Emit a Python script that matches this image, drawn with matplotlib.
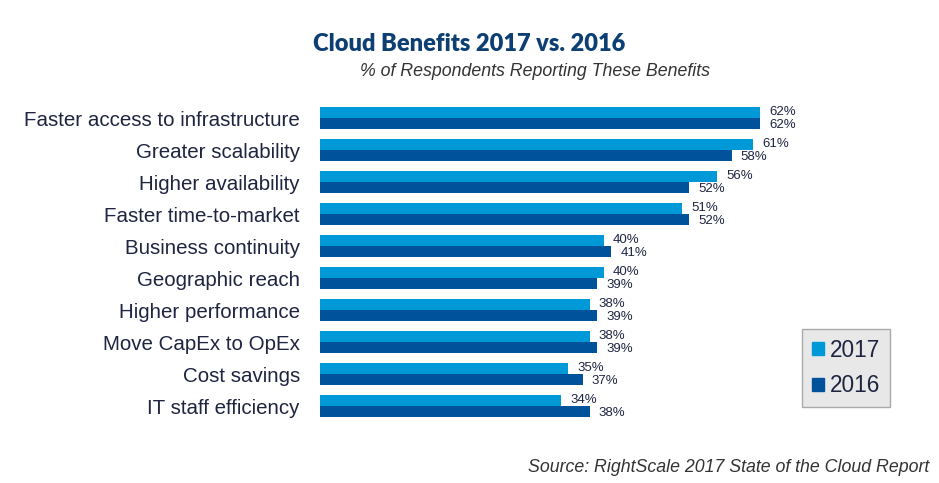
import matplotlib.pyplot as plt
import numpy as np
from matplotlib.patches import Patch

# Données
categories = ['Faster access to infrastructure', 'Greater scalability', 'Higher availability',
              'Faster time-to-market', 'Business continuity', 'Geographic reach',
              'Higher performance', 'Move CapEx to OpEx', 'Cost savings', 'IT staff efficiency']
values_2017 = [62, 61, 56, 51, 40, 40, 38, 38, 35, 34]
values_2016 = [62, 58, 52, 52, 41, 39, 39, 39, 37, 38]

light_blue = '#0099d8'
dark_blue = '#00529b'
text_col = '#1f2440'

plt.rcParams['font.family'] = ['Liberation Sans', 'DejaVu Sans']

fig = plt.figure(figsize=(9.39, 4.83), dpi=100)
ax = fig.add_axes([320 / 939, 1 - 422 / 483, 440 / 939, 320 / 483])

y = np.arange(len(categories))
h = 0.34
ax.barh(y - h / 2, values_2017, height=h, color=light_blue, label='2017')
ax.barh(y + h / 2, values_2016, height=h, color=dark_blue, label='2016')

for yi, v in zip(y, values_2017):
    ax.text(v + 1.3, yi - h / 2 - 0.02, f'{v}%', va='center', ha='left', fontsize=9.5, color=text_col)
for yi, v in zip(y, values_2016):
    ax.text(v + 1.3, yi + h / 2 + 0.04, f'{v}%', va='center', ha='left', fontsize=9.5, color=text_col)

ax.set_xlim(0, 62)
ax.set_ylim(len(categories) - 0.5, -0.5)
ax.set_yticks(y)
ax.set_yticklabels(categories, fontsize=14.8, color=text_col)
ax.tick_params(axis='y', length=0, pad=14.5)
ax.set_xticks([])
for s in ax.spines.values():
    s.set_visible(False)

fig.text(469 / 939, 1 - 44 / 483, 'Cloud Benefits 2017 vs. 2016', ha='center', va='center',
         fontsize=17, fontweight='heavy', color='#0d3f73', family=['Lato', 'DejaVu Sans'])
fig.text(535 / 939, 1 - 71 / 483, '% of Respondents Reporting These Benefits', ha='center',
         va='center', fontsize=12.8, style='italic', color='#333333')
fig.text(929 / 939, 1 - 467 / 483, 'Source: RightScale 2017 State of the Cloud Report', ha='right',
         va='center', fontsize=12.8, style='italic', color='#333333')

handles = [Patch(color=light_blue, label='2017'), Patch(color=dark_blue, label='2016')]
leg = fig.legend(handles=handles, loc='lower left', bbox_to_anchor=(802 / 939, 1 - 407 / 483),
                 fontsize=16.3, frameon=True, fancybox=False, handlelength=0.55, handleheight=0.55,
                 handletextpad=0.25, labelspacing=0.57, borderpad=0.42, borderaxespad=0)
leg.get_frame().set_facecolor('#e8e8e8')
leg.get_frame().set_edgecolor('#aaaaaa')
leg.get_frame().set_alpha(1)
for t in leg.get_texts():
    t.set_color(text_col)

plt.savefig('out.png', dpi=100)
